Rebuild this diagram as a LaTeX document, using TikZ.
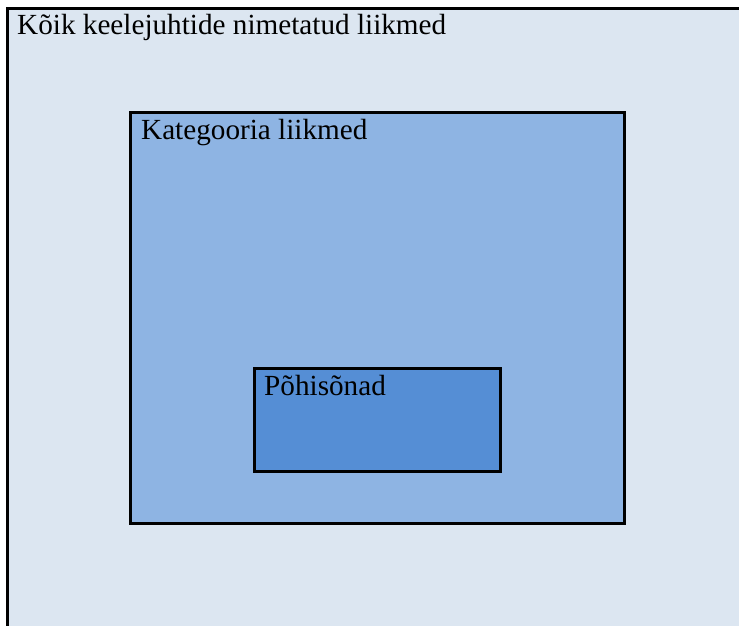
\documentclass[tikz,border=0pt]{standalone}
\usepackage{fontspec}
\setmainfont{Liberation Serif}
\usepackage{xcolor}
\usetikzlibrary{positioning}

\definecolor{setouter}{RGB}{220,230,241}
\definecolor{setmiddle}{RGB}{142,180,227}
\definecolor{setinner}{RGB}{85,142,213}

\begin{document}
\begin{tikzpicture}[x=1pt, y=-1pt,
    setbox/.style={draw=black, line width=3pt},
    setlabel/.style={anchor=base west, inner sep=0pt, font=\fontsize{29.2}{34}\selectfont}]

    \useasboundingbox (0,0) rectangle (739,626);
    \clip (0,0) rectangle (739,626);

    % all named members
    \draw[setbox, fill=setouter] (7.5,8.5) coordinate (all) rectangle (760,650);
    \node[setlabel] (alltext) at (17,35) {Kõik keelejuhtide nimetatud liikmed};

    % category members
    \draw[setbox, fill=setmiddle] (130.5,112.5) coordinate (cat) rectangle (624.5,523.5);
    \node[setlabel] (cattext) at (141,139) {Kategooria liikmed};

    % basic words
    \draw[setbox, fill=setinner] (254.5,368.5) coordinate (basic) rectangle (500.5,471.5);
    \node[setlabel] (basictext) at (264,395) {Põhisõnad};
\end{tikzpicture}
\end{document}
